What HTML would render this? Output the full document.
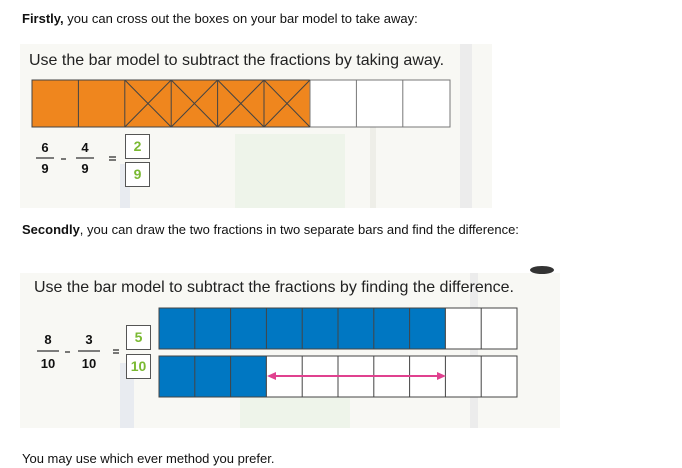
<!DOCTYPE html>
<html><head><meta charset="utf-8"><style>
body{margin:0;width:682px;height:468px;background:#fff;position:relative;overflow:hidden;font-family:"Liberation Sans",sans-serif;color:#111}
.a{position:absolute}
.p{position:absolute;background:#f8f8f4;overflow:hidden}
.t{font-size:13px;white-space:nowrap}
.h{font-size:16px;white-space:nowrap;color:#222}
.fr{position:absolute;font-weight:bold;font-size:13px;text-align:center;width:20px}
.box{position:absolute;box-sizing:border-box;border:1.5px solid #555;background:#fff;color:#7ab932;font-weight:bold;font-size:14px;text-align:center}
.dec{position:absolute;background:#eeeee8}
</style></head><body>
<div class="a t" style="left:22px;top:11px"><b>Firstly,</b> you can cross out the boxes on your bar model to take away:</div>

<div class="p" style="left:20px;top:44px;width:472px;height:164px">
 <div class="dec" style="left:100px;top:120px;width:10px;height:44px;background:#e8ebf0"></div>
 <div class="dec" style="left:215px;top:90px;width:110px;height:80px;background:#eef4ea"></div>
 <div class="dec" style="left:350px;top:40px;width:6px;height:130px"></div>
 <div class="dec" style="left:440px;top:0px;width:12px;height:164px;background:#ececec"></div>
</div>
<div class="p" style="left:20px;top:273px;width:540px;height:155px">
 <div class="dec" style="left:100px;top:90px;width:14px;height:65px;background:#e8ebf0"></div>
 <div class="dec" style="left:220px;top:110px;width:110px;height:45px;background:#eef4ea"></div>
 <div class="dec" style="left:450px;top:0px;width:8px;height:155px;background:#ececec"></div>
</div>

<div class="a h" style="left:29px;top:52px">Use the bar model to subtract the fractions by taking away.</div>
<div class="a t" style="left:22px;top:222px"><b>Secondly</b>, you can draw the two fractions in two separate bars and find the difference:</div>
<div class="a" style="left:530px;top:266px;width:24px;height:8px;border-radius:50%;background:#333"></div>
<div class="a h" style="left:34px;top:279px">Use the bar model to subtract the fractions by finding the difference.</div>

<svg class="a" style="left:0;top:0" width="682" height="468">
 <g stroke="#444" stroke-width="1">
  <rect x="32" y="80" width="278" height="47" fill="#ef861e"/>
  <rect x="310" y="80" width="140" height="47" fill="#fff" stroke="#777"/>
  <line x1="78.4" y1="80" x2="78.4" y2="127"/><line x1="124.8" y1="80" x2="124.8" y2="127"/>
  <line x1="171.2" y1="80" x2="171.2" y2="127"/><line x1="217.6" y1="80" x2="217.6" y2="127"/>
  <line x1="264" y1="80" x2="264" y2="127"/>
  <line x1="356.4" y1="80" x2="356.4" y2="127" stroke="#777"/><line x1="402.8" y1="80" x2="402.8" y2="127" stroke="#777"/>
  <path d="M124.8 80L171.2 127M171.2 80L124.8 127M171.2 80L217.6 127M217.6 80L171.2 127M217.6 80L264 127M264 80L217.6 127M264 80L310 127M310 80L264 127" fill="none"/>
 </g>
 <g stroke="#333" stroke-width="1.3">
  <line x1="36" y1="158" x2="54" y2="158"/><line x1="76" y1="158" x2="94" y2="158"/>
  <line x1="61" y1="159" x2="66" y2="159"/>
  <line x1="109" y1="157" x2="116" y2="157"/><line x1="109" y1="160" x2="116" y2="160"/>
  <line x1="37" y1="351" x2="59" y2="351"/><line x1="78" y1="351" x2="100" y2="351"/>
  <line x1="65" y1="352" x2="70" y2="352"/>
  <line x1="113" y1="350" x2="119" y2="350"/><line x1="113" y1="353" x2="119" y2="353"/>
 </g>
 <g stroke="#444" stroke-width="1">
  <rect x="159" y="308" width="286.4" height="41" fill="#0077c2"/>
  <rect x="445.4" y="308" width="71.6" height="41" fill="#fff"/>
  <rect x="159" y="356" width="107.4" height="41" fill="#0077c2"/>
  <rect x="266.4" y="356" width="250.6" height="41" fill="#fff"/>
  <path d="M194.8 308v41M230.6 308v41M266.4 308v41M302.2 308v41M338 308v41M373.8 308v41M409.6 308v41M481.2 308v41M194.8 356v41M230.6 356v41M302.2 356v41M338 356v41M373.8 356v41M409.6 356v41M445.4 356v41M481.2 356v41" fill="none"/>
 </g>
 <line x1="274" y1="376" x2="439" y2="376" stroke="#e0418f" stroke-width="2"/>
 <path d="M267 376l9-4v8zM446 376l-9-4v8z" fill="#e0418f"/>
</svg>
<div class="fr" style="left:35px;top:140px">6</div><div class="fr" style="left:35px;top:161px">9</div>
<div class="fr" style="left:75px;top:140px">4</div><div class="fr" style="left:75px;top:161px">9</div>
<div class="box" style="left:125px;top:134px;width:25px;height:25px;line-height:22px">2</div>
<div class="box" style="left:125px;top:162px;width:25px;height:25px;line-height:22px">9</div>

<div class="fr" style="left:38px;top:332px">8</div><div class="fr" style="left:37px;top:356px;width:22px">10</div>
<div class="fr" style="left:79px;top:332px">3</div><div class="fr" style="left:78px;top:356px;width:22px">10</div>
<div class="box" style="left:126px;top:325px;width:25px;height:25px;line-height:22px">5</div>
<div class="box" style="left:126px;top:354px;width:25px;height:25px;line-height:22px">10</div>

<div class="a t" style="left:22px;top:451px">You may use which ever method you prefer.</div>
</body></html>
